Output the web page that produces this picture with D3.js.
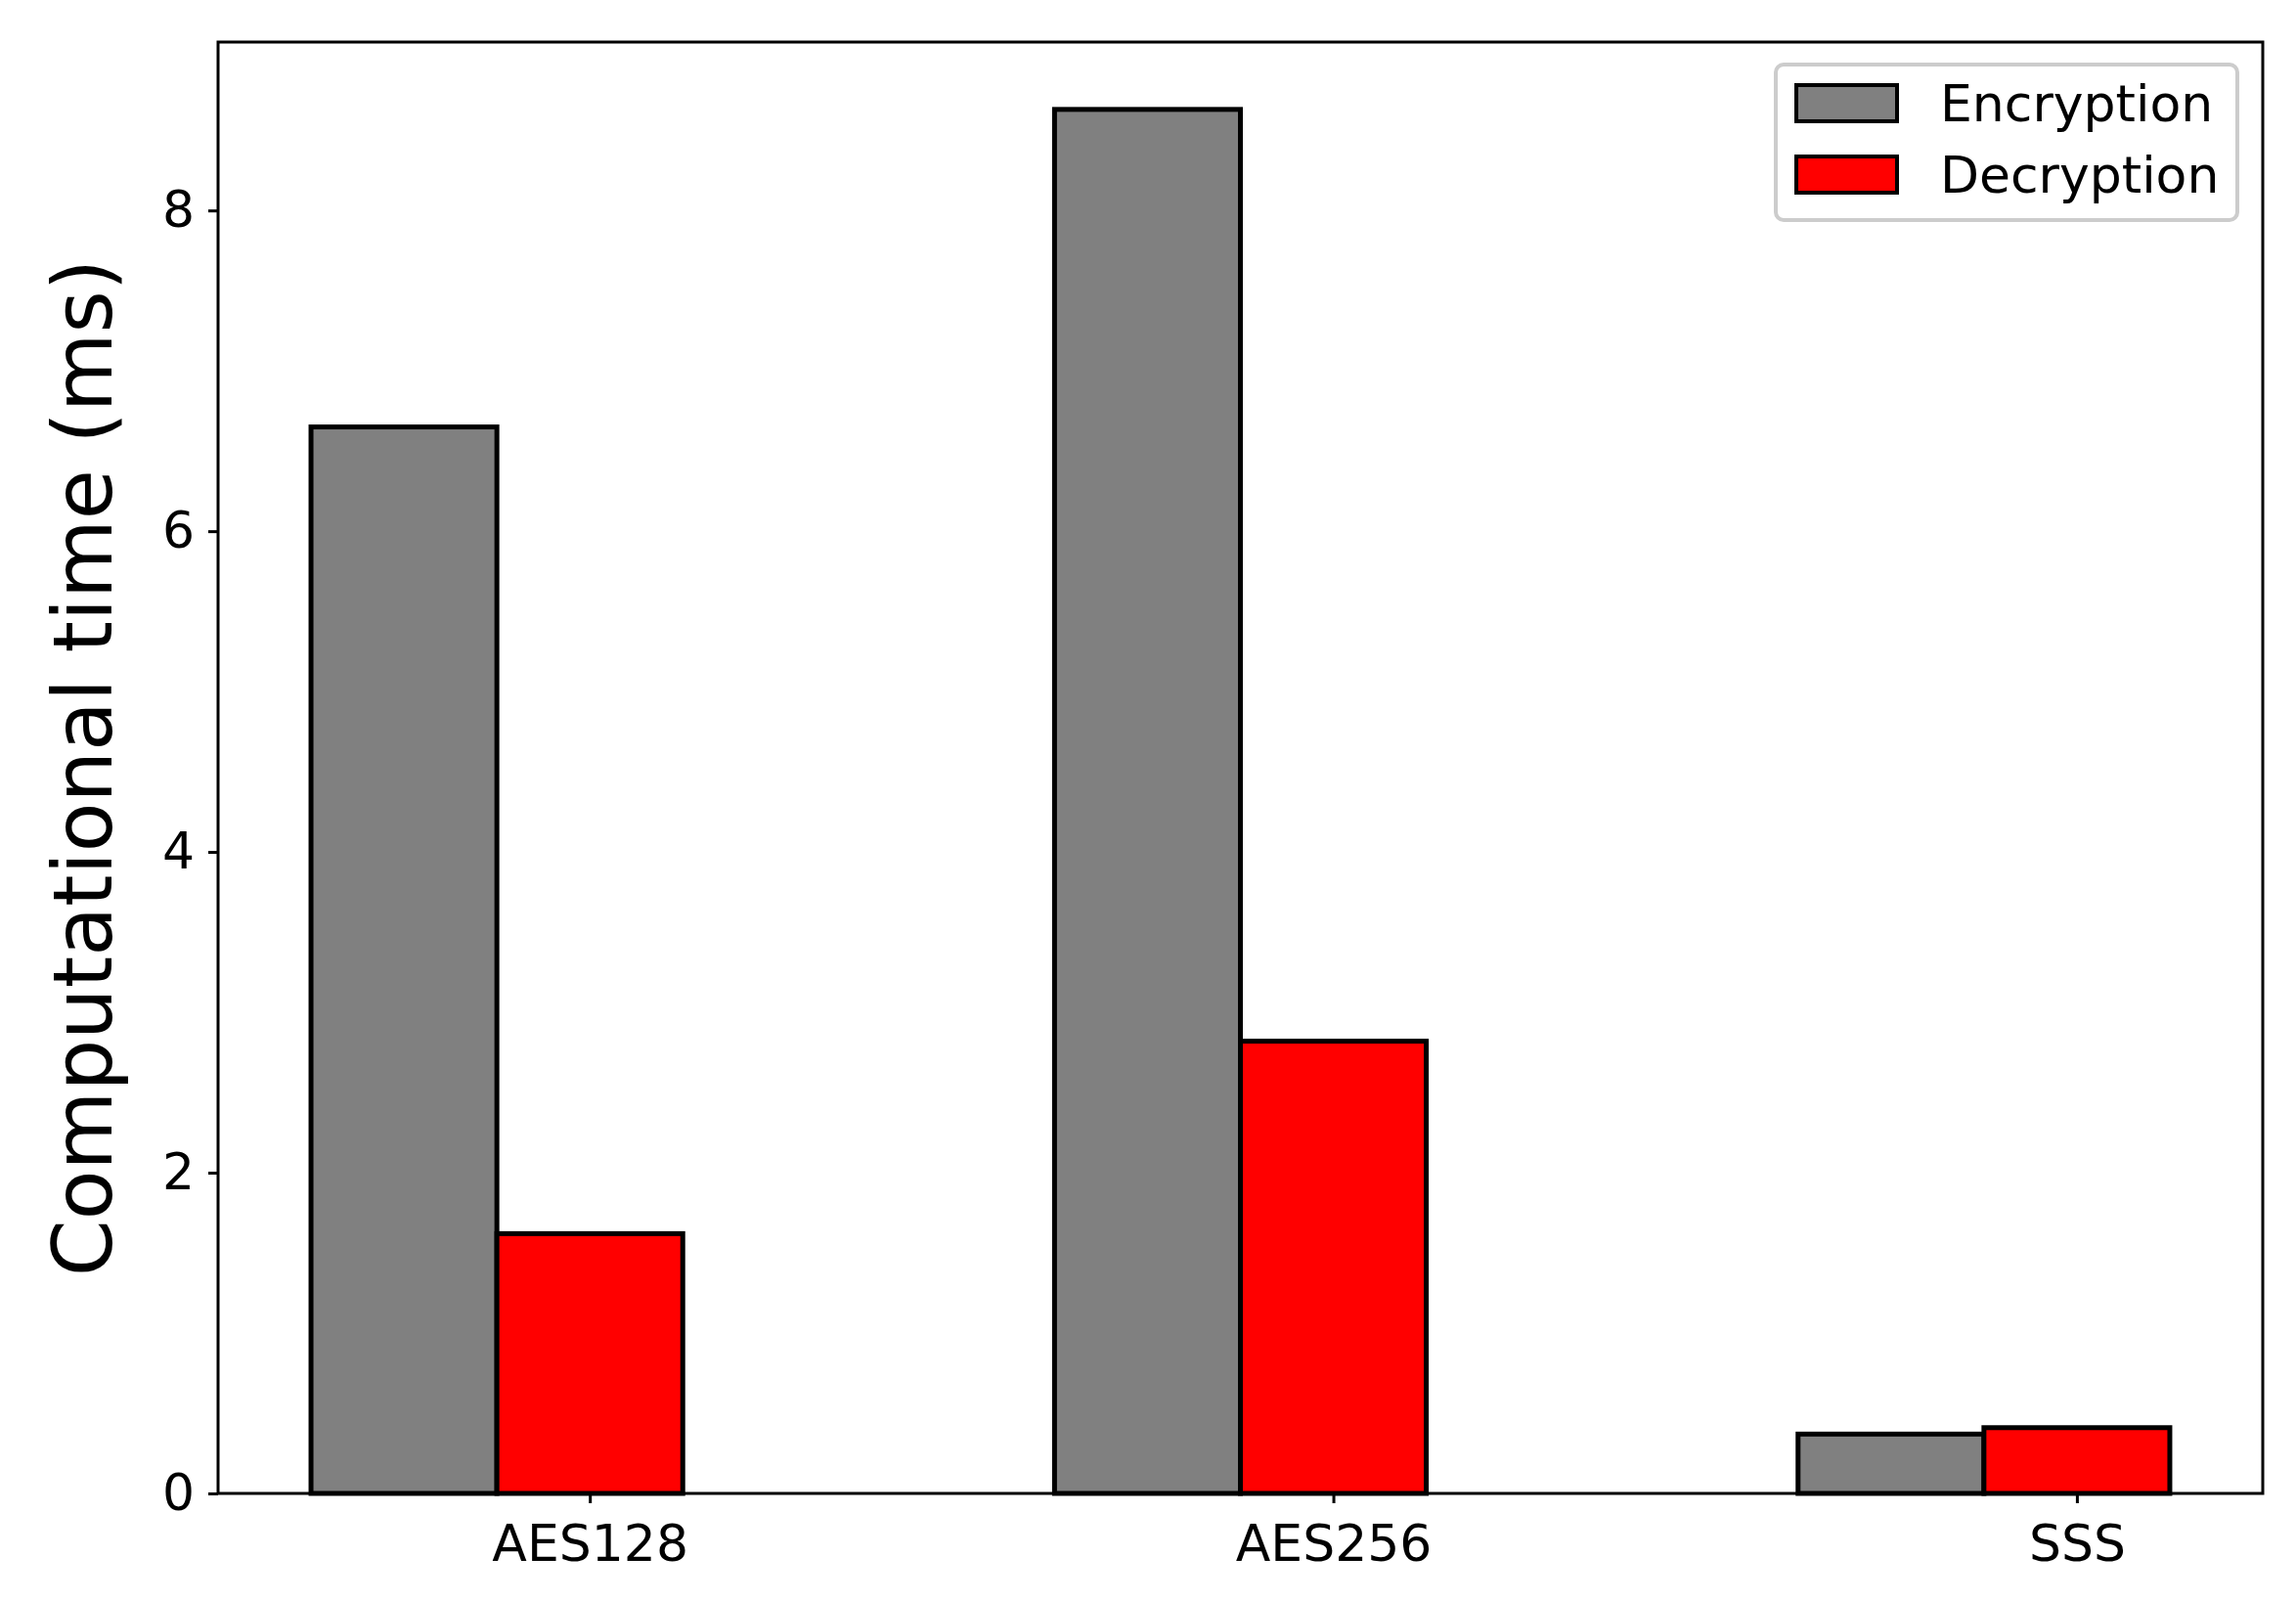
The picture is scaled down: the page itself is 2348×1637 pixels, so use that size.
<!DOCTYPE html>
<html>
<head>
<meta charset="utf-8">
<script src="https://cdn.jsdelivr.net/npm/d3@7"></script>
<style>
  body { margin: 0; background: #fff; }
  text { font-family: "DejaVu Sans", sans-serif; }
</style>
</head>
<body>
<svg id="chart" width="2348" height="1637"></svg>
<script>
const categories = ["AES128", "AES256", "SSS"];
const encryption = [6.65, 8.63, 0.37];
const decryption = [1.62, 2.82, 0.41];
const yTicks = [0, 2, 4, 6, 8];
const seriesNames = ["Encryption", "Decryption"];
const seriesColors = ["#808080", "#ff0000"];

const svg = d3.select("#chart");
const margin = { left: 223, right: 34, top: 43, bottom: 110 };
const width = 2348, height = 1637;
const plotW = width - margin.left - margin.right;
const plotH = height - margin.top - margin.bottom;

const g = svg.append("g").attr("transform", `translate(${margin.left},${margin.top})`);

// category index scale
const x = d3.scaleLinear().domain([-0.5, 2.25]).range([0, plotW]);
const y = d3.scaleLinear().domain([0, 9.05]).range([plotH, 0]);
const barW = 0.25;

const series = [encryption, decryption];
series.forEach((vals, s) => {
  g.selectAll(".bar" + s)
    .data(vals)
    .enter()
    .append("rect")
    .attr("x", (d, i) => x(i - 0.375 + s * barW))
    .attr("width", x(barW) - x(0))
    .attr("y", d => y(d))
    .attr("height", d => y(0) - y(d))
    .attr("fill", seriesColors[s])
    .attr("stroke", "#000")
    .attr("stroke-width", 5);
});

// axes
const xAxis = g.append("g")
  .attr("transform", `translate(0,${plotH})`)
  .call(d3.axisBottom(x).tickValues([0, 1, 2]).tickFormat(i => categories[i]).tickSize(10).tickPadding(22));
const yAxis = g.append("g")
  .call(d3.axisLeft(y).tickValues(yTicks).tickSize(10).tickPadding(14));
[xAxis, yAxis].forEach(a => {
  a.select(".domain").remove();
  a.selectAll("line").attr("stroke", "#000").attr("stroke-width", 3);
  a.selectAll("text").attr("font-size", 52).attr("fill", "#000")
    .attr("font-family", "DejaVu Sans, sans-serif");
});

g.append("rect")
  .attr("width", plotW).attr("height", plotH)
  .attr("fill", "none").attr("stroke", "#000").attr("stroke-width", 3);

svg.append("text")
  .attr("transform", `translate(85,${margin.top + plotH / 2}) rotate(-90)`)
  .attr("text-anchor", "middle")
  .attr("dominant-baseline", "central")
  .attr("font-size", 83)
  .text("Computational time (ms)");

// legend
const lg = svg.append("g").attr("transform", "translate(1816,66)");
lg.append("rect")
  .attr("width", 472).attr("height", 159).attr("rx", 8)
  .attr("fill", "#fff").attr("stroke", "#cccccc").attr("stroke-width", 4);
seriesNames.forEach((name, i) => {
  const row = lg.append("g").attr("transform", `translate(21,${21 + i * 73})`);
  row.append("rect").attr("width", 103).attr("height", 37)
    .attr("fill", seriesColors[i]).attr("stroke", "#000").attr("stroke-width", 4);
  row.append("text").attr("x", 147).attr("y", 19)
    .attr("dominant-baseline", "central")
    .attr("font-size", 52).text(name);
});
</script>
</body>
</html>
